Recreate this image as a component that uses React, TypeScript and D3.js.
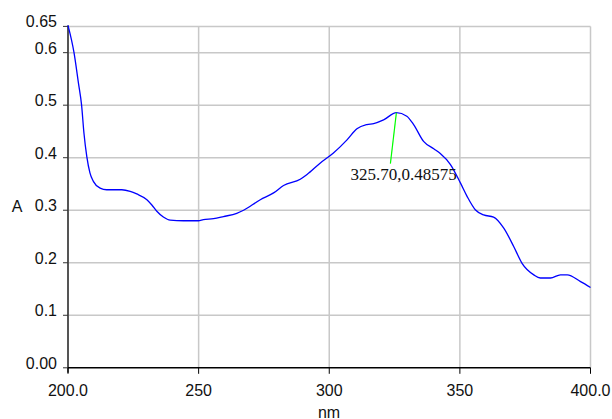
import React, { useEffect, useRef } from "react";
import * as d3 from "d3";

// spectrum (nm, absorbance)
const wavelengths = [
  200, 202.3, 204, 205.2, 206.1, 207.2, 208.4, 209.7, 212.3, 214.8, 220.6, 223.8,
  226.3, 230.2, 232.1, 234, 236.5, 239.1, 244.2, 249.9, 251.8, 255.7, 259.5, 264.6,
  267.2, 273.6, 278.7, 282.5, 288.9, 291.5, 296.6, 301.6, 306.8, 310.6, 314.4, 317,
  320.8, 325.7, 329.7, 332.3, 336.1, 340, 342.5, 346.4, 350.2, 352.8, 355.9, 359.1,
  362.9, 366.8, 370.6, 373.8, 378.3, 380.8, 384.7, 388.5, 391.1, 396.2, 400,
];
const absorbance = [
  0.652, 0.6, 0.542, 0.5, 0.447, 0.402, 0.371, 0.355, 0.342, 0.339, 0.339, 0.336,
  0.331, 0.32, 0.31, 0.298, 0.287, 0.281, 0.28, 0.28, 0.282, 0.284, 0.288, 0.294,
  0.3, 0.32, 0.333, 0.347, 0.359, 0.368, 0.39, 0.409, 0.434, 0.455, 0.463, 0.465,
  0.472, 0.48575, 0.479, 0.463, 0.431, 0.417, 0.408, 0.387, 0.352, 0.326, 0.301, 0.291,
  0.287, 0.266, 0.231, 0.199, 0.177, 0.171, 0.171, 0.177, 0.177, 0.164, 0.153,
];

const yTicks = [0, 0.1, 0.2, 0.3, 0.4, 0.5, 0.6, 0.65];
const yTickLabels = ["0.00", "0.1", "0.2", "0.3", "0.4", "0.5", "0.6", "0.65"];
const xTicks = [200, 250, 300, 350, 400];
const xTickLabels = ["200.0", "250", "300", "350", "400.0"];

const peak = { x: 325.7, y: 0.48575, label: "325.70,0.48575" };

export default function App() {
  const ref = useRef<SVGSVGElement>(null);

  useEffect(() => {
    const svg = d3.select(ref.current);
    svg.selectAll("*").remove();

    const x = d3.scaleLinear().domain([200, 400]).range([68, 590.5]);
    const y = d3.scaleLinear().domain([0, 0.65]).range([367.8, 26.4]);
    const font = "'Liberation Sans', Arial, sans-serif";

    // grid
    const grid = svg.append("g").attr("stroke", "#c8c8c8").attr("stroke-width", 1.5);
    yTicks.filter((t) => t > 0).forEach((t) => {
      grid.append("line").attr("x1", x(200)).attr("x2", x(400)).attr("y1", y(t)).attr("y2", y(t));
    });
    xTicks.filter((t) => t > 200).forEach((t) => {
      grid.append("line").attr("x1", x(t)).attr("x2", x(t)).attr("y1", y(0.65)).attr("y2", y(0));
    });

    // y axis
    svg.append("line")
      .attr("x1", x(200)).attr("x2", x(200)).attr("y1", y(0.65) - 1).attr("y2", y(0) + 5)
      .attr("stroke", "#555").attr("stroke-width", 2);
    yTicks.forEach((t, i) => {
      svg.append("line")
        .attr("x1", x(200) - 5).attr("x2", x(200)).attr("y1", y(t)).attr("y2", y(t))
        .attr("stroke", "#333").attr("stroke-width", 1);
      svg.append("text")
        .attr("x", x(200) - 11).attr("y", y(t) + 1)
        .attr("text-anchor", "end")
        .attr("font-family", font).attr("font-size", 16)
        .attr("fill", "#111")
        .text(yTickLabels[i]);
    });

    // x axis
    svg.append("line")
      .attr("x1", x(200)).attr("x2", x(400)).attr("y1", y(0)).attr("y2", y(0))
      .attr("stroke", "#000").attr("stroke-width", 1.5);
    xTicks.forEach((t, i) => {
      svg.append("line")
        .attr("x1", x(t)).attr("x2", x(t)).attr("y1", y(0)).attr("y2", y(0) + 6)
        .attr("stroke", "#000").attr("stroke-width", 1);
      svg.append("text")
        .attr("x", x(t)).attr("y", 396)
        .attr("text-anchor", "middle")
        .attr("font-family", font).attr("font-size", 16)
        .attr("fill", "#111")
        .text(xTickLabels[i]);
    });

    // axis titles
    svg.append("text").attr("x", 17).attr("y", 211.5).attr("text-anchor", "middle")
      .attr("font-family", font).attr("font-size", 16).attr("fill", "#111").text("A");
    svg.append("text").attr("x", 329).attr("y", 417.5).attr("text-anchor", "middle")
      .attr("font-family", font).attr("font-size", 16).attr("fill", "#111").text("nm");

    // spectrum
    const pts: [number, number][] = wavelengths.map((w, i) => [w, absorbance[i]]);
    const line = d3.line<[number, number]>()
      .x((d) => x(d[0]))
      .y((d) => y(d[1]))
      .curve(d3.curveMonotoneX);
    svg.append("path")
      .attr("d", line(pts))
      .attr("fill", "none")
      .attr("stroke", "#0000ff")
      .attr("stroke-width", 1.3);

    // peak annotation
    svg.append("line")
      .attr("x1", x(peak.x)).attr("y1", y(peak.y))
      .attr("x2", x(peak.x) - 6).attr("y2", y(peak.y) + 51)
      .attr("stroke", "#00ff00").attr("stroke-width", 1.2);
    svg.append("text")
      .attr("x", 350.5).attr("y", 180)
      .attr("font-family", "'Liberation Serif', 'Times New Roman', serif")
      .attr("font-size", 17)
      .attr("fill", "#111")
      .text(peak.label);
  }, []);

  return (
    <div style={{ position: "fixed", left: 0, top: 0 }}>
      <svg ref={ref} width={612} height={419} style={{ display: "block", background: "#fff" }} />
    </div>
  );
}
